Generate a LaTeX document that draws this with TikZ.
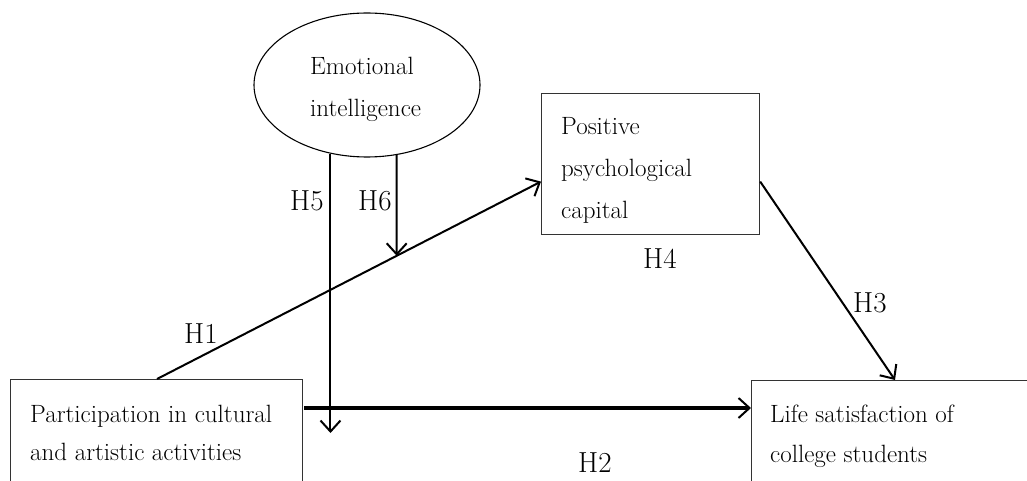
\documentclass[tikz,border=0pt]{standalone}
\usetikzlibrary{shapes.geometric,arrows.meta,intersections}

\begin{document}
\begin{tikzpicture}[x=1pt, y=-1pt,
    box/.style={draw=black!80, line width=1.2pt, inner sep=0pt, anchor=north west},
    txt/.style={anchor=base west, align=left, inner sep=0pt, font=\fontsize{25}{#1}\selectfont},
    txt/.default=40,
    hyp/.style={anchor=base west, inner sep=0pt, font=\fontsize{29}{34}\selectfont},
    link/.style={-{Straight Barb[length=11pt, width=20pt, line width=2pt]}, line width=2pt},
    ]
    \useasboundingbox (0,0) rectangle (1027,481);
    \clip (0,0) rectangle (1027,481);

    % constructs
    \node[box, minimum width=292pt, minimum height=140pt] (part) at (10,379) {};
    \node[box, minimum width=300pt, minimum height=140pt] (sat) at (751,380) {};
    \node[box, minimum width=218pt, minimum height=141pt] (pcap) at (541,93) {};
    \node[draw, ellipse, line width=1.1pt, inner sep=0pt,
          minimum width=226pt, minimum height=144pt] (emo) at (367,85) {};

    % anchored at the baseline of the last line
    \node[txt=38] (parttxt) at (30,460) {Participation in cultural\\and artistic activities};
    \node[txt] (sattxt) at (770,462) {Life satisfaction of\\college students};
    \node[txt=42] (pcaptxt) at (561,218) {Positive\\psychological\\capital};
    \node[txt=42] (emotxt) at (310,117) {Emotional\\intelligence};

    % paths
    \coordinate (h1start) at (157,379);
    \coordinate (h2start) at (304,408);
    \coordinate (h5end) at (331,433);

    \draw[link, name path=hone] (h1start) -- ([yshift=-17.5pt]pcap.west);
    \path[name path=hsix] (emo.293.5) -- ++(0,200);
    \path[name intersections={of=hone and hsix, by=h6end}];
    \draw[link] (emo.293.5) -- (h6end);
    \draw[link] (emo.242) -- (emo.242 |- h5end);
    \draw[link, line width=4pt] (h2start) -- (h2start -| sat.west);
    \draw[link] ([yshift=-17.5pt]pcap.east) -- ([xshift=144pt]sat.north west);

    % labels
    \node[hyp] (h1) at (184,343) {H1};
    \node[hyp] (h5) at (290,210) {H5};
    \node[hyp] (h6) at (358,210) {H6};
    \node[hyp] (h4) at (643,268) {H4};
    \node[hyp] (h3) at (853,312) {H3};
    \node[hyp] (h2) at (578,472) {H2};
\end{tikzpicture}
\end{document}
